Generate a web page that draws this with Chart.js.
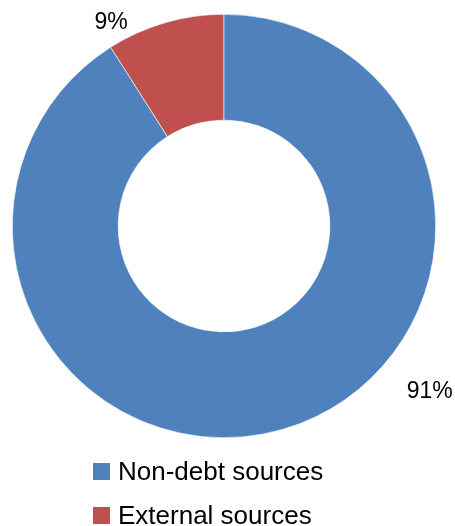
<!DOCTYPE html>
<html>
<head>
<meta charset="utf-8">
<script src="https://cdn.jsdelivr.net/npm/chart.js@4/dist/chart.umd.min.js"></script>
<style>
  html, body { margin: 0; padding: 0; background: #fff; }
  #wrap { position: relative; width: 455px; height: 526px; }
</style>
</head>
<body>
<div id="wrap"><canvas id="chart-sources" width="455" height="526"></canvas></div>
<script>
const categories = ['External sources', 'Non-debt sources'];
const shares = [9, 91];
const colors = ['#C0504D', '#4F81BD'];
const legendOrder = ['Non-debt sources', 'External sources'];

// label offsets from the ring centre, in units of the outer radius
const labelOffsets = [[-0.533, -0.962], [0.972, 0.783]];

const FONT = '"Liberation Sans", Arial, sans-serif';

const outsideLabels = {
  id: 'outsideLabels',
  afterDraw(chart) {
    const ctx = chart.ctx;
    const meta = chart.getDatasetMeta(0);
    ctx.save();

    // percentage labels beside the ring
    ctx.fillStyle = '#000';
    ctx.font = '23px ' + FONT;
    ctx.textAlign = 'center';
    ctx.textBaseline = 'middle';
    meta.data.forEach((arc, i) => {
      const { x, y, outerRadius } = arc.getProps(['x', 'y', 'outerRadius'], true);
      const [dx, dy] = labelOffsets[i];
      ctx.fillText(shares[i] + '%', x + dx * outerRadius, y + dy * outerRadius);
    });

    // stacked legend under the ring
    ctx.font = '26px ' + FONT;
    ctx.textAlign = 'left';
    legendOrder.forEach((name, row) => {
      const idx = categories.indexOf(name);
      const top = 463 + row * 44;
      ctx.fillStyle = colors[idx];
      ctx.fillRect(93, top, 17, 17);
      ctx.fillStyle = '#000';
      ctx.fillText(name, 118, top + 10);
    });
    ctx.restore();
  }
};

new Chart(document.getElementById('chart-sources'), {
  type: 'doughnut',
  data: {
    labels: categories,
    datasets: [{
      data: shares,
      backgroundColor: colors,
      borderColor: '#ffffff',
      borderWidth: 0.6
    }]
  },
  options: {
    responsive: false,
    animation: false,
    cutout: '50%',
    rotation: -32.4,
    layout: { padding: { left: 12, top: 14, right: 19, bottom: 88 } },
    plugins: {
      legend: { display: false },
      tooltip: { enabled: false }
    }
  },
  plugins: [outsideLabels]
});
</script>
</body>
</html>
